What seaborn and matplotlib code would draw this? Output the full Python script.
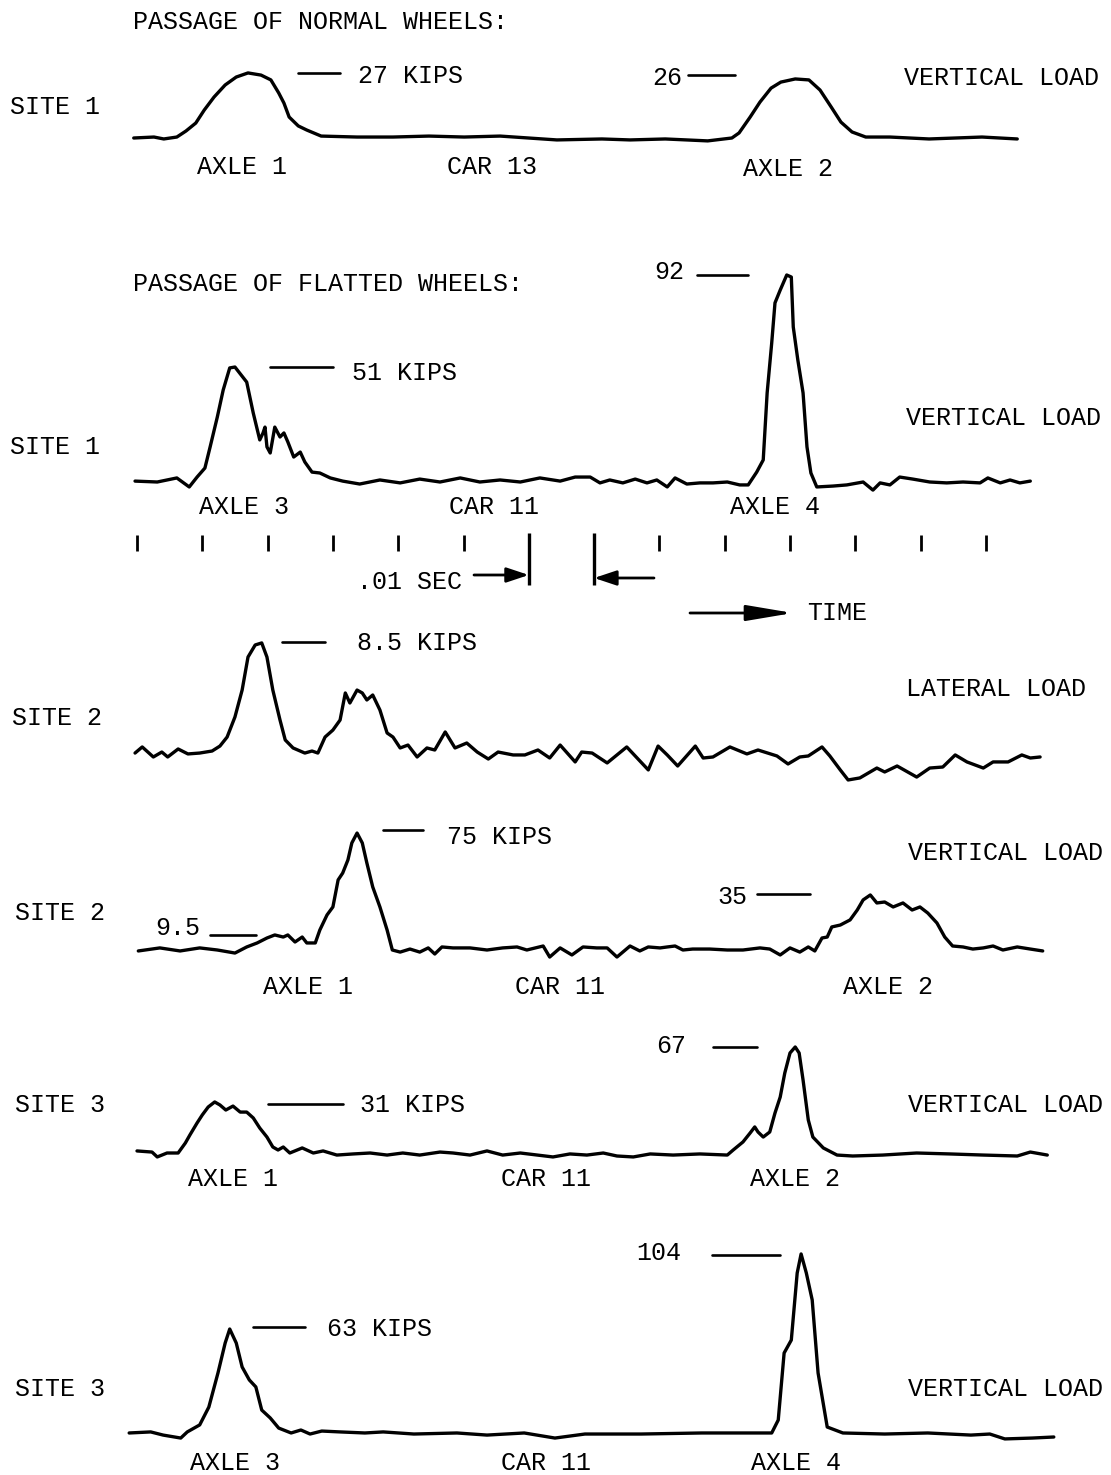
import matplotlib
matplotlib.use("Agg")
import matplotlib.pyplot as plt
import seaborn as sns

sns.set_theme(style="white")
plt.rcParams["font.family"] = ["Liberation Mono", "DejaVu Sans Mono"]

W, H = 1111, 1475
X0, PX_PER_MS = 137, 6.53      # where t = 0 ms sits on the page, pixels per ms
FS = 18
LW = 2.4

# ---------------- data: time (ms) and load (kips) ---------------
# site 1, normal wheels, vertical load (axle 1 / axle 2, car 13)
S1N_T = [-0.5, 2.6, 4.1, 6.1, 7.5, 9.0, 10.3, 11.8, 13.5, 15.2,
         17.0, 19.0, 20.5, 21.7, 22.5, 23.3, 24.7, 26.0, 28.2, 33.7,
         39.2, 44.7, 50.1, 55.6, 64.3, 71.2, 75.5, 80.9, 87.4, 91.1,
         92.2, 93.9, 95.4, 97.1, 98.6, 100.8, 102.9, 104.6, 106.3, 107.8,
         109.5, 111.6, 115.3, 121.3, 129.4, 134.8]
S1N_KIPS = [0, 0.4, -0.4, 0.4, 2.9, 6.2, 11.6, 17.0, 22.0, 25.3,
            27.0, 26.1, 24.1, 18.7, 14.5, 8.7, 5.0, 3.3, 0.8, 0.4,
            0.4, 0.8, 0.4, 0.8, -0.8, -0.4, -0.8, -0.4, -1.2, 0,
            2.1, 8.7, 14.9, 20.7, 23.2, 24.5, 24.1, 19.9, 12.9, 6.6,
            2.5, 0.4, 0.4, -0.4, 0.4, -0.4]

# site 1, flatted wheels, vertical load (axle 3 / axle 4, car 11)
S1F_T = [-0.3, 3.1, 6.1, 8.0, 9.2, 10.4, 11.2, 12.3, 13.2, 14.2,
         15.0, 16.8, 17.8, 18.8, 19.3, 19.6, 19.9, 20.4, 21.1, 21.9,
         22.5, 23.1, 24.0, 25.0, 25.7, 26.8, 28.0, 29.6, 31.5, 34.1,
         37.2, 40.3, 43.3, 46.4, 49.5, 52.5, 55.6, 58.7, 61.7, 64.8,
         67.1, 69.4, 70.9, 72.4, 74.4, 76.3, 78.1, 79.6, 81.2, 82.4,
         84.2, 86.2, 88.2, 90.4, 92.3, 93.6, 94.9, 95.9, 96.5, 97.2,
         97.7, 98.5, 99.5, 100.2, 100.5, 101.2, 102.0, 102.6, 103.2, 104.1,
         106.6, 108.7, 111.2, 112.7, 113.8, 115.3, 116.8, 118.8, 121.4, 124.0,
         126.5, 129.1, 130.3, 132.2, 133.7, 135.2, 136.8]
S1F_KIPS = [0.4, 0, 1.8, -2.2, 2.2, 6.2, 15.6, 28.9, 40.9, 50.7,
            51.1, 44.4, 30.7, 18.7, 21.8, 24.4, 15.6, 12.9, 24.4, 20.0,
            21.8, 17.8, 11.1, 13.3, 8.9, 4.4, 4.0, 1.8, 0.4, -0.9,
            0.9, -0.4, 1.3, 0, 1.8, 0, 0.9, 0, 1.8, 0.4,
            2.2, 2.2, -0.4, 0.9, -0.4, 1.3, -0.4, 0.9, -2.2, 1.8,
            -0.9, -0.4, -0.4, 0, -1.3, -1.3, 4.4, 9.8, 39.6, 61.8,
            79.6, 85.3, 92.0, 91.1, 68.9, 54.2, 39.6, 15.6, 4.0, -2.2,
            -1.8, -1.3, 0, -3.6, -0.4, -1.3, 2.2, 1.3, 0, -0.4,
            0, -0.4, 1.8, -0.4, 0.9, -0.4, 0.4]

# site 2, lateral load
S2L_T = [-0.3, 0.8, 2.5, 3.8, 4.7, 6.3, 7.8, 9.6, 11.5, 12.7,
         13.8, 15.0, 16.1, 17.0, 18.1, 19.1, 19.9, 20.8, 21.9, 22.7,
         23.9, 25.7, 26.8, 27.7, 28.8, 30.0, 31.1, 31.9, 32.6, 33.7,
         34.5, 35.2, 36.1, 37.2, 38.3, 39.2, 40.3, 41.5, 42.9, 44.4,
         45.6, 47.2, 48.7, 50.5, 52.1, 53.8, 55.3, 57.6, 59.4, 61.4,
         63.2, 64.8, 67.1, 68.1, 69.7, 72.0, 75.0, 78.3, 79.8, 81.2,
         82.8, 85.5, 86.7, 88.2, 90.8, 93.4, 95.1, 98.0, 99.7, 101.5,
         102.8, 104.9, 106.1, 107.7, 108.9, 110.7, 113.3, 114.5, 116.4, 119.4,
         121.4, 123.4, 125.3, 127.1, 129.6, 131.1, 133.4, 135.5, 136.8, 138.3]
S2L_KIPS = [-0.24, 0.24, -0.55, -0.16, -0.55, 0.08, -0.31, -0.24, -0.08, 0.31,
            1.02, 2.60, 4.72, 7.32, 8.27, 8.43, 7.32, 4.72, 2.36, 0.79,
            0.16, -0.24, -0.08, -0.24, 1.02, 1.57, 2.36, 4.49, 3.70, 4.72,
            4.49, 3.94, 4.33, 3.15, 1.34, 1.02, 0.16, 0.39, -0.55, 0.16,
            0, 1.42, 0.16, 0.55, -0.16, -0.71, -0.16, -0.39, -0.39, 0,
            -0.63, 0.39, -0.94, -0.16, -0.24, -1.02, 0.24, -1.57, 0.31, -0.39,
            -1.26, 0.31, -0.63, -0.55, 0.24, -0.31, 0, -0.47, -1.10, -0.55,
            -0.47, 0.24, -0.47, -1.57, -2.36, -2.20, -1.42, -1.73, -1.26, -2.13,
            -1.42, -1.34, -0.39, -0.94, -1.42, -0.94, -0.94, -0.39, -0.63, -0.55]

# site 2, vertical load (axle 1 / axle 2, car 11)
S2V_T = [0.2, 3.5, 6.6, 9.6, 12.3, 15.0, 16.8, 18.4, 19.9, 21.1,
         22.4, 23.1, 24.2, 25.3, 26.0, 27.3, 28.0, 29.1, 30.0, 30.8,
         31.5, 32.3, 32.9, 33.7, 34.5, 35.2, 36.1, 37.2, 38.3, 39.1,
         40.3, 41.8, 43.3, 44.6, 45.6, 46.7, 48.4, 51.0, 53.6, 56.0,
         58.2, 59.7, 62.2, 63.2, 64.8, 66.6, 68.3, 70.4, 72.0, 73.5,
         75.5, 77.0, 78.3, 80.1, 81.2, 82.4, 83.6, 85.1, 87.7, 90.4,
         92.8, 95.4, 96.9, 98.5, 100.0, 101.5, 102.8, 103.8, 104.9, 105.7,
         106.4, 107.7, 109.2, 110.3, 111.2, 112.3, 113.3, 114.5, 115.8, 117.3,
         118.7, 119.9, 121.1, 122.5, 123.7, 124.9, 126.5, 128.0, 129.6, 131.1,
         132.6, 134.8, 136.8, 138.7]
S2V_KIPS = [-0.6, 1.3, -0.6, 1.3, 0, -1.9, 1.9, 4.4, 7.5, 9.4,
            8.1, 9.4, 5.0, 8.1, 4.4, 4.4, 12.5, 21.9, 26.9, 43.8,
            48.1, 56.3, 66.9, 73.1, 66.9, 54.4, 39.4, 26.9, 12.5, 0,
            -1.3, 0.6, -1.3, 1.3, -2.5, 1.9, 1.3, 1.3, 0, 1.3,
            1.9, 0, 2.5, -4.4, 1.3, -3.1, 1.9, 1.3, 1.3, -4.4,
            2.5, -0.6, 1.9, 1.3, 1.9, 2.5, 0, 0.6, 0.6, 0,
            0, 1.3, 0.6, -3.1, 1.3, -1.3, 1.9, -0.6, 7.5, 8.1,
            14.4, 15.6, 18.8, 25.0, 31.3, 34.4, 29.4, 30.0, 26.9, 29.4,
            25.0, 26.9, 23.1, 16.9, 8.1, 2.5, 1.9, 0.6, 1.3, 2.5,
            0, 1.9, 0.6, -0.6]

# site 3, vertical load (axle 1 / axle 2, car 11)
S3V_T = [0, 2.3, 3.1, 4.6, 6.3, 7.4, 8.1, 9.2, 10.0, 10.9,
         11.9, 12.7, 13.6, 14.7, 15.8, 16.8, 17.8, 18.8, 19.9, 20.8,
         21.6, 22.4, 23.4, 25.3, 27.0, 28.5, 30.6, 33.1, 35.7, 38.3,
         40.7, 43.3, 46.4, 48.4, 51.0, 53.6, 56.0, 58.7, 61.3, 63.7,
         66.3, 68.9, 71.4, 73.5, 76.0, 78.6, 82.1, 86.2, 90.4, 91.3,
         92.8, 93.9, 94.6, 95.1, 95.9, 96.9, 97.7, 98.5, 99.2, 100.0,
         100.8, 101.4, 102.0, 102.8, 103.5, 105.1, 107.2, 109.6, 114.2, 119.4,
         124.5, 129.6, 134.8, 136.8, 139.4]
S3V_KIPS = [1.3, 0.6, -2.5, 0, 0, 6.3, 11.4, 19.0, 24.1, 29.1,
            32.3, 30.4, 27.2, 29.7, 25.9, 25.9, 22.2, 15.8, 10.1, 3.8,
            1.9, 3.8, 0, 3.2, 0, 1.3, -1.3, -0.6, 0, -1.3,
            0, -1.3, 0.6, 0, -1.3, 1.3, -1.3, 0, -1.3, -2.5,
            -0.6, -1.3, 0, -1.9, -2.5, -0.6, -1.3, -0.6, -1.3, 1.9,
            7.0, 12.7, 16.5, 13.3, 10.1, 13.3, 25.3, 35.4, 50.6, 63.3,
            67.1, 63.3, 46.2, 20.9, 10.1, 3.2, -1.3, -1.9, -1.3, 0,
            -0.6, -1.3, -1.9, 0.6, -1.3]

# site 3, flatted wheels, vertical load (axle 3 / axle 4, car 11)
S3F_T = [-1.2, 2.1, 4.0, 6.7, 7.7, 9.6, 11.0, 12.4, 13.5, 14.2,
         15.2, 16.1, 17.2, 18.2, 19.1, 20.4, 21.7, 23.6, 25.1, 26.5,
         28.3, 31.1, 34.9, 37.7, 42.4, 49.0, 53.6, 59.3, 64.0, 68.6,
         77.2, 86.5, 93.1, 97.2, 98.2, 99.1, 100.2, 101.1, 101.7, 102.5,
         103.4, 104.3, 105.7, 108.1, 114.5, 121.1, 127.7, 130.6, 132.9, 137.1,
         140.4]
S3F_KIPS = [2.3, 2.9, 1.1, -0.6, 2.9, 6.9, 17.1, 36.6, 53.7, 61.7,
            53.7, 40.0, 32.6, 28.6, 15.4, 10.9, 5.1, 2.3, 4.0, 1.7,
            3.4, 2.9, 2.3, 2.9, 1.7, 2.3, 1.1, 2.3, -0.6, 1.7,
            1.7, 2.3, 2.3, 2.3, 9.7, 48.0, 55.4, 93.7, 104.6, 93.7,
            78.3, 36.6, 5.7, 2.3, 1.7, 2.3, 1.1, 1.7, -1.1, -0.6,
            0]

# peak call-outs per trace: (value in kips, dash start px, dash end px)
S1N_MARKS = [(27, 298, 340), (26, 688, 735)]
S1F_MARKS = [(92, 697, 748), (51, 270, 333)]
S2L_MARKS = [(8.5, 282, 325)]
S2V_MARKS = [(75, 383, 423), (35, 757, 810), (9.5, 210, 256)]
S3V_MARKS = [(67, 713, 757), (31, 268, 343)]
S3F_MARKS = [(104, 712, 780), (63, 253, 305)]

TIME_TICKS_MS = [0, 10, 20, 30, 40, 50, 60, 70, 80, 90, 100, 110, 120, 130]
SPAN_TICKS_MS = [60, 70]   # the .01 sec span

# baseline row on the page and vertical scale (px per kip) for each strip
PANELS = [
    (S1N_T, S1N_KIPS, S1N_MARKS, 138, 2.41),
    (S1F_T, S1F_KIPS, S1F_MARKS, 482, 2.25),
    (S2L_T, S2L_KIPS, S2L_MARKS, 750, 12.7),
    (S2V_T, S2V_KIPS, S2V_MARKS, 950, 1.6),
    (S3V_T, S3V_KIPS, S3V_MARKS, 1153, 1.58),
    (S3F_T, S3F_KIPS, S3F_MARKS, 1437, 1.75),
]

TEXTS = [
    ("PASSAGE OF NORMAL WHEELS:", 133, 22, "left"),
    ("SITE 1", 10, 107, "left"),
    ("27 KIPS", 358, 76, "left"),
    ("26", 682, 78, "right"),
    ("VERTICAL LOAD", 1002, 78, "center"),
    ("AXLE 1", 242, 167, "center"),
    ("CAR 13", 492, 167, "center"),
    ("AXLE 2", 788, 169, "center"),
    ("PASSAGE OF FLATTED WHEELS:", 133, 284, "left"),
    ("92", 684, 272, "right"),
    ("51 KIPS", 352, 373, "left"),
    ("VERTICAL LOAD", 1004, 418, "center"),
    ("SITE 1", 10, 447, "left"),
    ("AXLE 3", 244, 507, "center"),
    ("CAR 11", 494, 507, "center"),
    ("AXLE 4", 775, 507, "center"),
    (".01 SEC", 357, 582, "left"),
    ("TIME", 807, 613, "left"),
    ("8.5 KIPS", 357, 643, "left"),
    ("LATERAL LOAD", 996, 689, "center"),
    ("SITE 2", 12, 718, "left"),
    ("75 KIPS", 447, 837, "left"),
    ("VERTICAL LOAD", 1005, 853, "center"),
    ("SITE 2", 15, 913, "left"),
    ("9.5", 155, 928, "left"),
    ("35", 717, 897, "left"),
    ("AXLE 1", 308, 987, "center"),
    ("CAR 11", 560, 987, "center"),
    ("AXLE 2", 888, 987, "center"),
    ("67", 656, 1046, "left"),
    ("31 KIPS", 360, 1105, "left"),
    ("SITE 3", 15, 1105, "left"),
    ("VERTICAL LOAD", 1005, 1105, "center"),
    ("AXLE 1", 233, 1179, "center"),
    ("CAR 11", 546, 1179, "center"),
    ("AXLE 2", 795, 1179, "center"),
    ("104", 636, 1253, "left"),
    ("63 KIPS", 327, 1329, "left"),
    ("SITE 3", 15, 1389, "left"),
    ("VERTICAL LOAD", 1005, 1389, "center"),
    ("AXLE 3", 235, 1463, "center"),
    ("CAR 11", 546, 1463, "center"),
    ("AXLE 4", 796, 1463, "center"),
]


def px2ms(px):
    return (px - X0) / PX_PER_MS


fig = plt.figure(figsize=(W / 100, H / 100), dpi=100)
fig.patch.set_facecolor("white")
XLIM = (px2ms(0), px2ms(W))

# one transparent full-page axes per strip, y in kips
for t, kips, marks, base, scale in PANELS:
    ax = fig.add_axes([0, 0, 1, 1])
    sns.lineplot(x=t, y=kips, ax=ax, color="black", linewidth=LW,
                 estimator=None, sort=False)
    for val, x1, x2 in marks:
        ax.plot([px2ms(x1), px2ms(x2)], [val, val], color="black", lw=1.9)
    ax.set_xlim(*XLIM)
    ax.set_ylim((base - H) / scale, base / scale)
    ax.axis("off")

# time scale: ms across, page pixels down
ax_t = fig.add_axes([0, 0, 1, 1])
ax_t.set_xlim(*XLIM)
ax_t.set_ylim(H, 0)
ax_t.axis("off")
short = [m for m in TIME_TICKS_MS if m not in SPAN_TICKS_MS]
ax_t.vlines(short, 535, 551, color="black", lw=2.0)
ax_t.vlines(SPAN_TICKS_MS, 533, 585, color="black", lw=2.4)
arrow = dict(arrowstyle="-|>,head_length=0.9,head_width=0.3", color="black",
             lw=2, shrinkA=0, shrinkB=0, mutation_scale=15)
ax_t.annotate("", xy=(SPAN_TICKS_MS[0], 575), xytext=(px2ms(474), 575), arrowprops=arrow)
ax_t.annotate("", xy=(SPAN_TICKS_MS[1], 578), xytext=(px2ms(654), 578), arrowprops=arrow)
ax_t.annotate("", xy=(px2ms(793), 613), xytext=(px2ms(690), 613),
              arrowprops=dict(arrowstyle="-|>,head_length=1.9,head_width=0.32",
                              color="black", lw=2, shrinkA=0, shrinkB=0,
                              mutation_scale=15))

# lettering, placed in page pixels
ax_txt = fig.add_axes([0, 0, 1, 1])
ax_txt.set_xlim(0, W)
ax_txt.set_ylim(H, 0)
ax_txt.axis("off")
for s, x, y, ha in TEXTS:
    ax_txt.text(x, y, s, ha=ha, va="center", fontsize=FS, color="black")

fig.savefig("out.png", dpi=100, facecolor="white")
